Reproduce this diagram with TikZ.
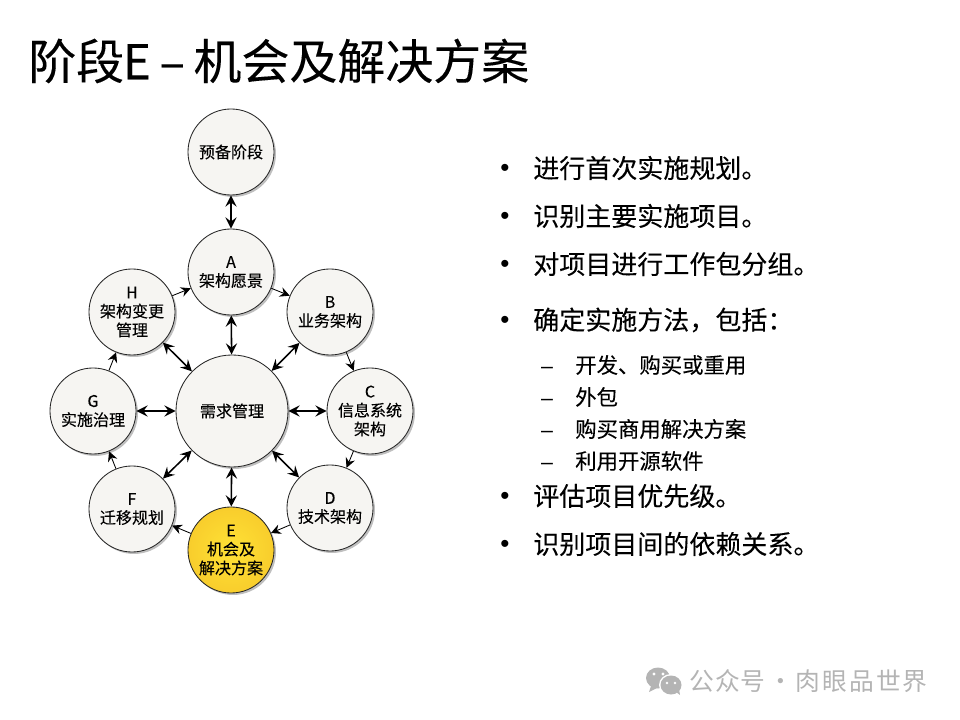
\documentclass[tikz,border=0pt]{standalone}
\usepackage{fontspec}
\setmainfont{Noto Sans CJK SC}[FakeBold=0.12]
\newfontfamily\thinfont{Noto Sans CJK SC}[LetterSpace=4]
\newfontfamily\markfont{Liberation Sans}
\usepackage{xcolor}
\usetikzlibrary{arrows.meta,shadows}
\definecolor{phasefill}{HTML}{F6F5F2}
\definecolor{markgray}{HTML}{B4B4B4}
\definecolor{lightgold}{HTML}{FFE236}
\definecolor{darkgold}{HTML}{F8CD2C}

\begin{document}
\begin{tikzpicture}[
  x=0.025cm,y=-0.025cm,
  phase/.style={circle,draw=black!85,line width=0.6pt,fill=phasefill,align=center,inner sep=0pt,minimum size=2.15cm,
    font=\fontsize{11.4}{13.4}\selectfont,drop shadow={shadow xshift=1.4pt,shadow yshift=-1.4pt,opacity=0.5}},
  hub/.style={phase,minimum size=2.8cm},
  current/.style={phase,inner color=lightgold,outer color=darkgold},
  cycle/.style={draw,line width=0.6pt,-{Stealth[length=7pt,width=7pt,inset=2.4pt]}},
  req/.style={draw,line width=1.1pt,{Stealth[length=8pt,width=8pt,inset=3pt]}-{Stealth[length=8pt,width=8pt,inset=3pt]}},
  bigitem/.style={anchor=west,inner sep=0pt,font=\fontsize{18.5}{22}\selectfont},
  subitem/.style={anchor=west,inner sep=0pt,font=\fontsize{15.2}{18}\selectfont},
  bigdot/.style={inner sep=0pt,font=\fontsize{18.5}{22}\markfont},
  subdash/.style={inner sep=0pt,font=\fontsize{15.2}{18}\markfont}
]
\useasboundingbox (0,0) rectangle (960,720);
\node[anchor=west,inner sep=0pt,font=\fontsize{34.1}{40}\selectfont] (title) at (28,61) {阶段\kern-1pt E\kern6pt –\kern6pt 机会及解决方案};
% circles
\node[phase] (prelim) at (231,152) {预备阶段};
\node[phase] (a) at (231,272) {A\\架构愿景};
\node[phase] (b) at (330,312) {B\\业务架构};
\node[phase] (c) at (370,411) {C\\信息系统\\架构};
\node[phase] (d) at (330,508) {D\\技术架构};
\node[current] (e) at (231,550) {E\\机会及\\解决方案};
\node[phase] (f) at (132,509) {F\\迁移规划};
\node[phase] (g) at (93,411) {G\\实施治理};
\node[phase] (h) at (132,312) {H\\架构变更\\管理};
\node[hub] (reqs) at (232,411) {需求管理};
% arrows
\draw[cycle] (a) -- (b);
\draw[cycle] (b) -- (c);
\draw[cycle] (c) -- (d);
\draw[cycle] (d) -- (e);
\draw[cycle] (e) -- (f);
\draw[cycle] (f) -- (g);
\draw[cycle] (g) -- (h);
\draw[cycle] (h) -- (a);
\draw[req] (prelim) -- (a);
\draw[req] (reqs) -- (a);
\draw[req] (reqs) -- (b);
\draw[req] (reqs) -- (c);
\draw[req] (reqs) -- (d);
\draw[req] (reqs) -- (e);
\draw[req] (reqs) -- (f);
\draw[req] (reqs) -- (g);
\draw[req] (reqs) -- (h);
% list
\node[bigdot] (d1) at (505,170) {•};
\node[bigdot] (d2) at (505,218) {•};
\node[bigdot] (d3) at (505,266) {•};
\node[bigdot] (d4) at (505,322) {•};
\node[bigdot] (d5) at (505,498) {•};
\node[bigdot] (d6) at (505,546) {•};
\node[subdash] (n1) at (547,370) {–};
\node[subdash] (n2) at (547,402) {–};
\node[subdash] (n3) at (547,434) {–};
\node[subdash] (n4) at (547,466) {–};
\node[bigitem] (i1) at (533,168) {进行首次实施规划。};
\node[bigitem] (i2) at (533,216) {识别主要实施项目。};
\node[bigitem] (i3) at (533,264) {对项目进行工作包分组。};
\node[bigitem] (i4) at (533,320) {确定实施方法，包括：};
\node[subitem] (s1) at (575,365) {开发、购买或重用};
\node[subitem] (s2) at (575,397) {外包};
\node[subitem] (s3) at (575,429) {购买商用解决方案};
\node[subitem] (s4) at (575,461) {利用开源软件};
\node[bigitem] (i5) at (533,496) {评估项目优先级。};
\node[bigitem] (i6) at (533,544) {识别项目间的依赖关系。};
% mark
\fill[markgray] (658,678) ellipse (12 and 10.5);
\fill[markgray] (651,686) -- (649,692) -- (657,688) -- cycle;
\fill[white] (671,685) ellipse (12 and 11);
\fill[markgray] (671,685) ellipse (10.5 and 9.5);
\fill[markgray] (676,692) -- (680,695) -- (679,689) -- cycle;
\fill[white] (654,674) circle (1.7) (663,674) circle (1.7) (667,683) circle (1.4) (675,683) circle (1.4);
\node[anchor=west,inner sep=0pt,text=markgray,font=\fontsize{17.6}{20}\thinfont] (mark) at (689,681) {公众号\kern2pt·\kern2pt 肉\kern1.4pt 眼\kern1.4pt 品\kern1.4pt 世\kern1.4pt 界};
\end{tikzpicture}
\end{document}
